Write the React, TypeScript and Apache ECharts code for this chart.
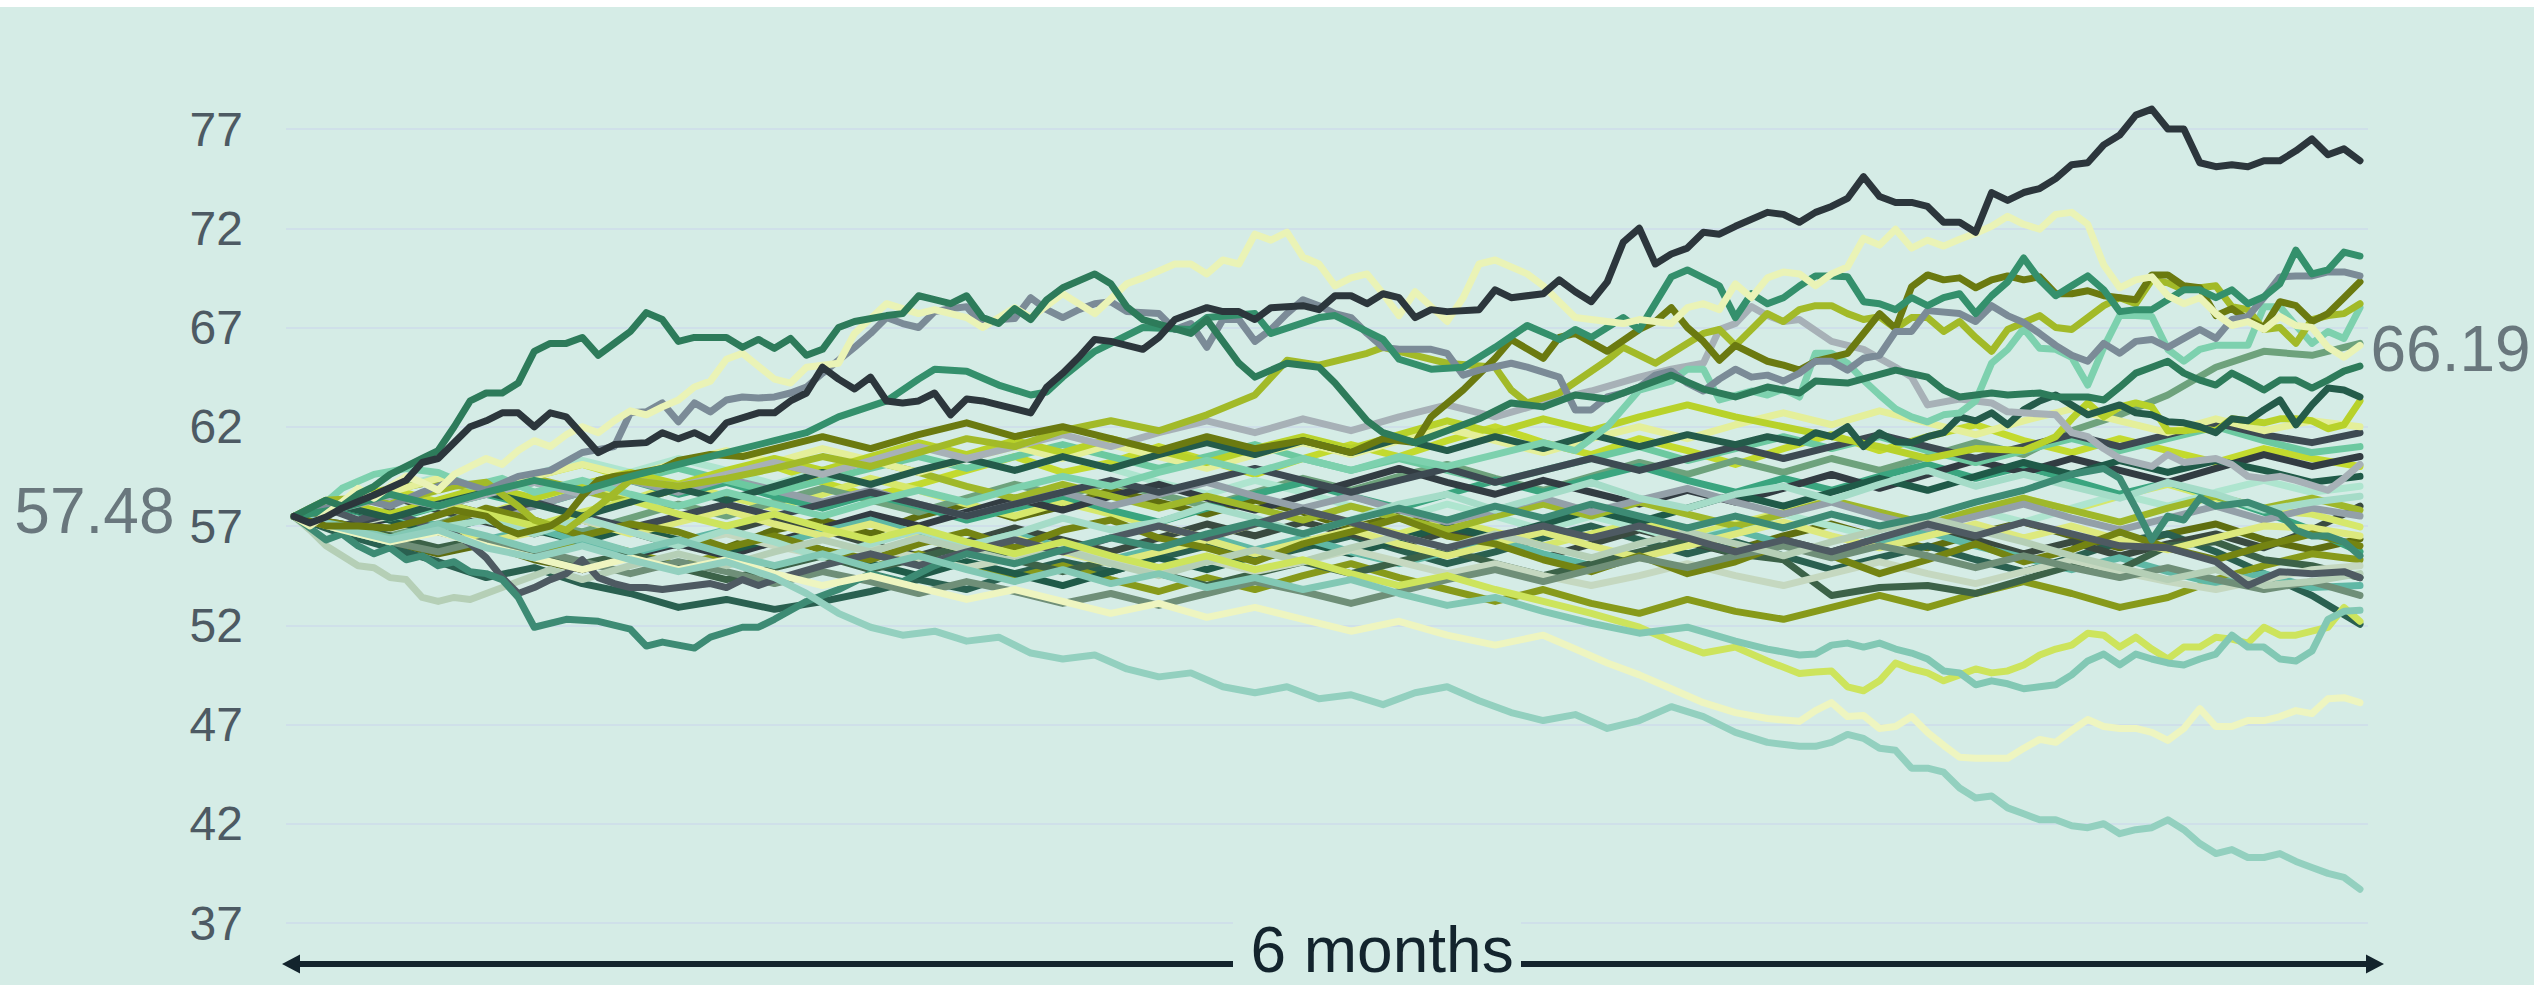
import React, { useEffect, useRef } from "react";
import * as echarts from "echarts";

// ---------------- data ----------------
const START_VALUE = 57.48;
const MARKED_END_VALUE = 66.19;
const LAST_DAY = 129;
const Y_MIN = 37;
const Y_MAX = 77;
const Y_STEP = 5;
const X_LABEL = "6 months";

type Pt = [number, number];

// sampling days shared by the coarser simulated paths
const BUNDLE_DAYS = [0, 3, 6, 9, 12, 15, 18, 21, 24, 27, 30, 33, 36, 39, 42, 45, 48, 51, 54, 57, 60, 63, 66, 69, 72, 75, 78, 81, 84, 87, 90, 93, 96, 99, 102, 105, 108, 111, 114, 117, 120, 123, 126, 129];

const bundleDarkOlive = [57.48, 56.9, 56.2, 55.6, 56.1, 55.3, 54.8, 55.5, 56.2, 55.9, 56.8, 57.3, 56.6, 57.5, 58.1, 57.4, 58.0, 58.8, 58.2, 57.6, 58.3, 57.7, 56.9, 57.5, 56.8, 56.2, 56.9, 57.6, 57.0, 56.4, 55.8, 56.5, 57.1, 56.4, 55.9, 56.6, 57.2, 56.5, 55.9, 56.6, 57.1, 56.3, 55.8, 56.35];
const bundleLime = [57.48, 58.3, 58.9, 58.2, 58.8, 59.5, 60.1, 59.4, 58.7, 59.3, 60.0, 59.2, 58.5, 59.1, 59.8, 60.5, 59.7, 60.2, 61.0, 60.3, 59.6, 60.4, 61.1, 60.5, 61.3, 62.0, 61.2, 60.6, 61.4, 60.8, 60.1, 60.9, 61.6, 60.8, 61.5, 62.1, 61.3, 60.7, 61.4, 60.8, 60.2, 60.9, 60.4, 60.0];
const bundleDeepGreen = [57.48, 56.6, 55.9, 55.2, 54.4, 54.9, 54.1, 53.6, 52.9, 53.3, 52.8, 53.2, 53.7, 54.3, 53.8, 54.6, 55.2, 54.7, 55.4, 56.0, 55.3, 55.9, 56.5, 55.8, 55.1, 55.7, 56.4, 57.0, 56.3, 55.6, 56.2, 55.5, 54.8, 55.4, 56.0, 55.3, 54.7, 55.4, 56.2, 56.6, 55.7, 54.6, 53.5, 52.05];
const bundleCharcoalGreen = [57.48, 57.9, 58.5, 57.8, 57.2, 56.6, 57.3, 56.7, 56.0, 56.7, 57.4, 56.8, 56.1, 55.5, 56.2, 56.9, 56.3, 55.7, 56.4, 57.1, 56.5, 57.2, 56.6, 56.0, 56.7, 56.1, 55.4, 56.1, 56.8, 56.2, 55.6, 56.3, 55.7, 56.4, 57.0, 56.3, 55.6, 56.2, 55.5, 56.1, 56.6, 55.9, 56.8, 58.0];
const bundleLightLime = [57.48, 56.8, 57.5, 58.2, 57.6, 58.4, 59.0, 58.3, 59.1, 58.5, 57.9, 58.6, 59.4, 58.8, 58.1, 57.5, 58.2, 57.6, 57.0, 56.4, 57.1, 57.8, 57.2, 56.6, 57.3, 56.7, 56.0, 56.6, 57.2, 56.5, 57.1, 57.7, 58.3, 57.6, 57.0, 57.7, 58.4, 57.8, 58.5, 59.1, 58.4, 57.8, 57.6, 56.95];
const bundleSage = [57.48, 57.0, 56.5, 57.1, 57.8, 57.2, 56.7, 57.4, 58.1, 57.5, 58.2, 58.9, 58.3, 57.7, 58.4, 59.1, 58.5, 59.2, 58.6, 58.0, 58.7, 59.4, 58.8, 59.5, 60.1, 59.4, 58.8, 59.5, 60.2, 59.6, 60.3, 59.7, 60.4, 59.8, 60.5, 61.2, 60.6, 61.8, 62.6, 63.6, 65.0, 65.8, 65.6, 66.2];
const bundlePaleMint = [57.48, 58.1, 58.8, 59.5, 58.9, 59.6, 60.3, 59.7, 60.4, 59.8, 59.1, 59.8, 60.5, 61.1, 60.4, 59.8, 60.5, 59.9, 59.2, 58.6, 59.3, 58.7, 58.0, 57.4, 58.1, 57.5, 56.8, 57.5, 56.9, 56.2, 56.9, 57.6, 57.0, 56.4, 57.1, 57.8, 57.2, 57.9, 58.6, 58.0, 58.7, 59.3, 58.7, 59.0];
const bundleSeaGreen = [57.48, 57.9, 57.3, 58.0, 58.6, 58.0, 58.7, 59.3, 58.6, 59.2, 58.5, 57.9, 58.6, 58.0, 57.3, 57.9, 58.5, 57.8, 57.2, 57.9, 58.6, 59.2, 58.5, 57.9, 58.6, 59.3, 58.7, 59.4, 60.0, 59.3, 58.7, 59.4, 58.8, 59.5, 60.1, 59.4, 60.0, 59.3, 58.6, 59.2, 58.5, 57.7, 56.8, 55.7];
const bundleOlive = [57.48, 56.9, 56.3, 56.9, 56.2, 55.6, 56.3, 55.7, 55.0, 55.6, 56.2, 55.5, 54.9, 55.6, 55.0, 54.4, 55.0, 54.3, 53.7, 54.4, 53.8, 54.5, 55.1, 54.4, 53.8, 53.2, 53.8, 53.1, 52.6, 53.3, 52.7, 52.3, 52.9, 53.5, 52.9, 53.6, 54.2, 53.6, 52.9, 53.4, 54.3, 55.0, 55.6, 55.3];
const bundleCharcoal = [57.48, 56.8, 57.4, 56.7, 56.1, 55.4, 54.8, 55.5, 56.1, 55.5, 56.2, 56.9, 57.6, 57.0, 57.7, 58.4, 57.8, 58.5, 59.1, 58.4, 57.8, 58.5, 59.2, 59.9, 59.2, 58.6, 59.3, 58.7, 58.1, 58.8, 58.2, 58.9, 59.6, 58.9, 59.6, 60.3, 59.7, 60.4, 59.8, 59.2, 59.9, 60.6, 60.0, 60.5];
const bundleForestDeep = [57.48, 58.0, 57.3, 56.7, 57.4, 56.8, 56.2, 56.9, 56.3, 55.7, 56.4, 55.8, 55.1, 54.5, 55.2, 54.6, 54.0, 54.7, 55.4, 54.8, 55.5, 56.2, 55.6, 56.3, 57.0, 56.4, 57.1, 57.8, 57.2, 57.9, 58.6, 58.0, 58.7, 59.4, 58.8, 59.5, 60.2, 59.6, 60.3, 59.7, 60.3, 59.8, 59.2, 59.5];
const bundleYellowGreen = [57.48, 58.2, 58.8, 59.3, 58.7, 59.4, 58.8, 58.2, 58.9, 59.6, 60.2, 59.6, 60.3, 59.7, 59.0, 58.4, 59.1, 58.5, 57.9, 58.5, 57.9, 57.3, 58.0, 57.4, 56.8, 57.5, 58.1, 57.5, 58.2, 57.6, 57.0, 57.6, 58.3, 57.7, 57.1, 57.8, 58.4, 57.8, 57.2, 57.9, 58.5, 57.9, 58.4, 57.8];
const bundleTeal = [57.48, 57.0, 57.6, 57.0, 56.3, 56.9, 56.2, 55.6, 56.2, 56.8, 56.1, 56.7, 57.3, 56.6, 56.0, 56.6, 55.9, 55.3, 55.9, 56.5, 55.8, 56.4, 55.7, 55.1, 55.7, 56.3, 55.6, 55.0, 55.6, 56.2, 56.8, 56.1, 55.5, 56.1, 56.7, 56.0, 55.4, 54.8, 55.4, 54.7, 54.1, 54.6, 53.9, 54.0];
const bundleForest = [57.48, 57.1, 56.5, 55.9, 56.4, 55.7, 55.1, 55.6, 54.9, 54.3, 54.9, 55.5, 54.8, 55.4, 56.0, 55.3, 54.7, 55.3, 54.6, 54.0, 54.6, 55.2, 54.6, 55.2, 55.8, 55.1, 54.5, 55.1, 55.7, 56.3, 55.6, 55.3, 53.5, 53.9, 54.0, 53.6, 54.3, 55.0, 54.8, 56.0, 56.2, 55.3, 55.0, 54.4];
const bundleGray = [57.48, 58.0, 58.6, 58.0, 57.4, 58.0, 58.7, 59.3, 58.7, 59.4, 58.8, 58.2, 58.8, 58.1, 57.5, 58.1, 58.7, 58.0, 58.6, 59.2, 58.5, 57.9, 58.5, 57.8, 57.2, 57.8, 58.4, 57.7, 58.3, 58.9, 58.2, 57.6, 58.2, 57.5, 56.9, 57.5, 58.1, 57.4, 56.8, 57.4, 58.0, 57.3, 57.9, 57.5];
const bundlePaleLime = [57.48, 56.9, 56.3, 56.8, 56.2, 56.7, 57.3, 56.6, 57.2, 57.8, 57.1, 56.5, 57.1, 56.4, 55.8, 56.4, 55.7, 55.1, 55.7, 56.3, 55.6, 56.2, 56.8, 56.1, 55.5, 56.1, 56.7, 56.0, 55.4, 56.0, 56.6, 57.2, 56.5, 55.9, 56.5, 57.1, 56.4, 57.0, 56.3, 55.8, 56.4, 57.0, 56.9, 56.5];
const bundlePaleSage = [57.48, 57.0, 57.5, 58.0, 57.4, 56.8, 57.3, 56.7, 56.1, 56.6, 56.0, 55.5, 56.0, 55.4, 54.9, 55.4, 55.9, 55.3, 54.8, 55.3, 54.7, 55.2, 55.8, 55.2, 54.6, 55.1, 54.5, 54.0, 54.5, 55.1, 54.5, 54.0, 54.6, 55.2, 54.6, 54.1, 54.7, 55.3, 54.7, 54.2, 53.8, 54.3, 54.8, 55.0];
const bundleMintGreen = [57.48, 58.0, 57.4, 58.0, 58.6, 59.2, 58.6, 59.3, 59.9, 59.3, 58.7, 59.3, 59.9, 60.5, 59.9, 60.5, 61.1, 60.5, 59.9, 60.5, 61.1, 60.4, 59.8, 60.4, 59.8, 59.2, 59.8, 60.4, 61.0, 60.3, 60.9, 61.5, 60.9, 61.5, 60.8, 60.2, 60.8, 61.4, 60.8, 61.4, 62.0, 61.3, 60.7, 61.0];
const bundleDarkSlate = [57.48, 57.0, 57.6, 58.2, 57.6, 58.2, 57.5, 56.9, 57.5, 58.1, 57.5, 58.1, 58.7, 58.1, 57.5, 58.1, 58.7, 59.3, 58.7, 59.3, 59.9, 59.3, 58.7, 59.3, 59.9, 59.2, 59.8, 60.4, 59.8, 60.4, 61.0, 60.4, 61.0, 61.6, 61.0, 60.4, 61.0, 61.6, 61.0, 61.6, 62.2, 61.6, 61.2, 61.7];
const bundleOliveLight = [57.48, 57.1, 56.4, 57.0, 57.9, 57.3, 56.5, 57.1, 56.7, 55.9, 56.5, 55.8, 55.3, 56.1, 56.7, 55.9, 56.8, 57.3, 56.4, 55.9, 55.2, 56.1, 56.7, 57.4, 56.5, 56.1, 55.3, 54.7, 55.5, 54.6, 55.2, 56.1, 55.5, 54.6, 55.3, 56.1, 55.2, 55.8, 56.7, 55.9, 55.3, 56.0, 56.6, 56.0];
const bundleGreenGray = [57.48, 56.9, 56.2, 55.7, 56.3, 55.8, 55.2, 54.6, 55.2, 54.7, 54.1, 54.7, 54.2, 53.6, 54.2, 53.7, 53.1, 53.6, 53.0, 53.6, 54.2, 53.7, 53.1, 53.7, 54.3, 54.8, 54.2, 54.8, 55.4, 54.9, 55.5, 56.0, 55.4, 56.0, 55.5, 54.9, 55.5, 54.9, 54.4, 54.9, 54.3, 53.8, 54.2, 53.5];
const bundleLightTeal = [57.48, 56.8, 56.2, 56.9, 57.3, 56.6, 57.4, 56.7, 56.0, 56.8, 56.2, 55.4, 56.1, 56.8, 56.0, 56.6, 57.4, 56.8, 57.2, 58.0, 57.4, 56.6, 57.3, 58.1, 58.6, 57.8, 58.5, 59.2, 58.4, 57.9, 58.6, 59.0, 58.3, 59.1, 59.8, 59.0, 59.6, 59.0, 58.4, 59.2, 58.6, 57.8, 58.2, 58.5];
const bundleYellow = [57.48, 58.1, 58.7, 59.4, 58.8, 59.5, 60.1, 59.5, 60.2, 60.8, 60.2, 60.9, 60.3, 59.7, 60.4, 61.0, 60.4, 61.1, 60.5, 59.9, 60.6, 61.2, 60.6, 61.3, 61.9, 61.3, 60.7, 61.4, 62.0, 61.4, 62.1, 62.7, 62.1, 62.8, 62.2, 61.6, 62.3, 62.9, 62.3, 61.7, 62.4, 61.8, 62.3, 62.0];

// finely traced paths: [day, value]
const pathTopCharcoal: Pt[] = [[0,57.48],[1,57.15],[2,57.45],[3,57.9],[5,58.56],[7,59.3],[8,60.2],[9,60.4],[11,62.0],[12,62.3],[13,62.7],[14,62.7],[15,62.0],[16,62.7],[17,62.5],[19,60.7],[20,61.1],[22,61.2],[23,61.7],[24,61.4],[25,61.7],[26,61.3],[27,62.2],[29,62.7],[30,62.7],[31,63.3],[32,63.7],[33,65.0],[34,64.4],[35,63.9],[36,64.5],[37,63.3],[38,63.2],[39,63.3],[40,63.7],[41,62.6],[42,63.4],[43,63.3],[44,63.1],[46,62.7],[47,64.0],[48,64.7],[49,65.5],[50,66.4],[51,66.3],[53,65.9],[54,66.5],[55,67.4],[57,68.0],[58,67.8],[59,67.8],[60,67.4],[61,68.0],[63,68.1],[64,67.9],[65,68.6],[66,68.6],[67,68.2],[68,68.7],[69,68.5],[70,67.5],[71,67.9],[72,67.8],[74,67.9],[75,68.9],[76,68.5],[78,68.7],[79,69.4],[80,68.8],[81,68.3],[82,69.3],[83,71.3],[84,72.0],[85,70.2],[86,70.7],[87,71.0],[88,71.8],[89,71.7],[90,72.1],[92,72.8],[93,72.7],[94,72.3],[95,72.8],[96,73.1],[97,73.5],[98,74.6],[99,73.6],[100,73.3],[101,73.3],[102,73.1],[103,72.3],[104,72.3],[105,71.8],[106,73.8],[107,73.4],[108,73.8],[109,74.0],[110,74.5],[111,75.2],[112,75.3],[113,76.2],[114,76.7],[115,77.7],[116,78.0],[117,77.0],[118,77.0],[119,75.3],[120,75.1],[121,75.2],[122,75.1],[123,75.4],[124,75.4],[125,75.9],[126,76.5],[127,75.7],[128,76.0],[129,75.4]];
const pathEarlyGreen: Pt[] = [[0,57.48],[1,57.9],[2,58.3],[3,58.0],[4,58.6],[5,59.0],[6,59.6],[7,60.0],[8,60.4],[9,60.8],[10,62.0],[11,63.3],[12,63.7],[13,63.7],[14,64.2],[15,65.8],[16,66.2],[17,66.2],[18,66.5],[19,65.6],[20,66.2],[21,66.8],[22,67.75],[23,67.4],[24,66.3],[25,66.5],[27,66.5],[28,66.0],[29,66.4],[30,65.95],[31,66.45],[32,65.6],[33,65.9],[34,67.0],[35,67.3],[37,67.6],[38,67.7],[39,68.6],[40,68.4],[41,68.2],[42,68.6],[43,67.5],[44,67.2],[45,67.95],[46,67.4],[47,68.4],[48,69.0],[50,69.7],[51,69.2],[52,68.05],[53,67.4],[56,66.7],[57,67.4],[59,65.2],[60,64.5],[62,65.2],[64,65.0],[65,64.2],[67,62.3],[68,61.7],[70,61.2],[72,61.8],[74,62.4],[76,63.2],[78,63.0],[80,63.6],[82,63.4],[84,64.0],[86,64.6],[88,63.9],[90,63.5],[92,64.0],[94,63.7],[95,64.3],[97,64.2],[100,64.85],[102,64.5],[103,63.85],[104,63.5],[106,63.7],[107,63.6],[109,63.7],[110,63.5],[112,63.5],[113,63.35],[114,64.0],[115,64.7],[116,65.0],[117,65.3],[118,64.7],[119,64.35],[120,64.1],[121,64.7],[122,64.3],[123,63.85],[124,64.35],[125,64.35],[126,63.95],[127,64.35],[128,64.8],[129,65.05]];
const pathPaleYellowHigh: Pt[] = [[0,57.48],[1,57.0],[2,57.6],[3,58.2],[4,58.9],[5,58.4],[6,59.0],[7,59.5],[8,59.2],[9,58.8],[10,59.6],[11,60.0],[12,60.4],[13,60.1],[14,60.8],[15,61.3],[16,61.0],[17,61.6],[18,62.0],[19,61.7],[20,62.3],[21,62.8],[22,62.6],[23,63.0],[24,63.35],[25,64.0],[26,64.3],[27,65.4],[28,65.7],[30,64.4],[31,64.2],[32,65.0],[34,65.2],[35,66.7],[37,68.2],[39,67.7],[40,67.9],[42,67.5],[43,67.0],[45,68.0],[46,67.5],[48,68.7],[50,67.7],[52,69.2],[53,69.5],[55,70.2],[56,70.2],[57,69.7],[58,70.4],[59,70.2],[60,71.7],[61,71.4],[62,71.8],[63,70.55],[64,70.2],[65,69.1],[66,69.5],[67,69.7],[68,68.7],[69,67.6],[70,68.8],[72,67.3],[73,68.5],[74,70.2],[75,70.4],[77,69.7],[78,69.1],[79,68.3],[80,67.5],[82,67.3],[83,67.2],[84,67.4],[86,67.2],[87,68.0],[88,68.2],[89,67.9],[90,69.2],[91,68.5],[92,69.5],[93,69.8],[94,69.7],[95,69.1],[96,69.7],[97,70.05],[98,71.5],[99,71.15],[100,71.95],[101,71.0],[102,71.4],[103,71.1],[104,71.45],[105,71.75],[106,72.1],[107,72.6],[108,72.2],[109,71.95],[110,72.7],[111,72.8],[112,72.2],[113,70.15],[114,69.0],[115,69.4],[116,69.55],[117,68.6],[118,68.2],[119,68.5],[120,67.7],[121,67.1],[122,67.3],[123,66.9],[124,67.55],[125,67.1],[126,67.0],[127,66.0],[128,65.5],[129,66.1]];
const pathBlueGray: Pt[] = [[0,57.48],[2,57.9],[4,58.4],[6,58.0],[8,58.7],[10,59.3],[12,58.8],[14,59.5],[16,59.8],[18,60.7],[20,61.0],[21,62.7],[22,62.75],[23,63.2],[24,62.25],[25,63.2],[26,62.75],[27,63.35],[28,63.5],[29,63.45],[30,63.5],[31,63.7],[32,64.0],[33,64.7],[34,65.35],[35,66.0],[36,66.7],[37,67.5],[38,67.2],[39,67.0],[40,67.8],[41,67.95],[42,68.05],[43,67.1],[44,67.4],[45,67.45],[46,68.5],[47,67.9],[48,67.5],[49,67.9],[50,68.2],[51,68.3],[52,67.8],[54,67.7],[55,66.9],[56,67.2],[57,66.0],[58,67.4],[59,67.4],[60,66.3],[61,66.9],[62,67.7],[63,68.4],[64,68.1],[65,67.7],[66,67.5],[67,66.7],[68,66.0],[69,65.9],[71,65.9],[72,65.7],[73,64.6],[74,64.85],[76,65.2],[77,65.0],[79,64.5],[80,62.85],[81,62.85],[82,63.5],[83,63.7],[84,64.0],[85,64.6],[86,64.8],[87,64.2],[88,63.8],[89,64.4],[90,64.9],[91,64.5],[92,64.6],[93,64.3],[94,64.7],[95,65.3],[96,65.3],[97,64.85],[98,65.45],[99,65.6],[100,66.8],[101,66.8],[102,67.85],[104,67.7],[105,67.3],[106,68.1],[107,67.6],[108,67.25],[109,66.7],[110,66.1],[111,65.6],[112,65.3],[113,66.2],[114,65.7],[115,66.3],[116,66.4],[117,66.0],[118,66.45],[119,66.9],[120,66.45],[121,67.4],[122,67.55],[123,68.5],[124,69.55],[125,69.6],[126,69.6],[127,69.8],[128,69.8],[129,69.6]];
const pathOlive: Pt[] = [[0,57.48],[2,57.0],[4,57.0],[6,56.9],[8,57.3],[10,57.8],[12,57.5],[13,56.9],[14,56.6],[16,57.0],[17,57.5],[18,58.5],[19,59.3],[20,59.5],[21,59.6],[23,59.9],[24,60.3],[26,60.6],[28,60.5],[30,60.9],[33,61.5],[36,60.9],[39,61.6],[42,62.2],[45,61.5],[48,62.0],[51,61.4],[54,60.8],[57,61.5],[60,60.9],[63,61.3],[66,60.7],[68,61.4],[70,61.2],[71,62.5],[73,63.85],[75,65.45],[76,66.4],[78,65.45],[79,66.5],[80,66.7],[82,65.8],[84,66.9],[85,67.3],[86,68.0],[87,67.0],[88,66.3],[89,65.35],[90,66.1],[92,65.3],[93,65.1],[94,64.85],[95,65.3],[96,65.5],[97,65.7],[98,66.7],[99,67.7],[100,66.95],[101,69.05],[102,69.65],[103,69.4],[104,69.5],[105,69.0],[106,69.4],[107,69.6],[108,69.4],[109,69.55],[110,68.7],[111,68.7],[112,68.85],[113,68.6],[114,68.5],[115,68.4],[116,69.65],[117,69.65],[118,69.1],[119,69.0],[120,67.6],[121,67.95],[122,67.4],[123,67.0],[124,68.3],[125,68.1],[126,67.3],[127,67.7],[128,68.5],[129,69.3]];
const pathYellowGreen: Pt[] = [[0,57.48],[2,58.3],[4,58.4],[6,58.1],[8,58.6],[10,59.0],[12,59.2],[14,58.0],[15,57.3],[17,56.8],[19,58.0],[21,59.3],[24,59.0],[27,59.4],[30,59.9],[33,60.5],[36,60.0],[39,60.7],[42,61.4],[45,61.0],[48,61.8],[51,62.3],[54,61.8],[57,62.6],[60,63.6],[62,65.35],[64,65.1],[67,65.7],[68,66.0],[70,65.6],[72,65.2],[75,65.0],[76,63.85],[77,63.2],[79,63.7],[82,65.35],[83,66.0],[85,65.2],[88,66.7],[89,66.9],[90,66.1],[92,67.7],[93,67.3],[94,67.9],[95,68.1],[96,68.1],[97,67.7],[98,67.4],[99,67.55],[100,66.95],[101,67.5],[102,67.5],[103,66.8],[104,67.3],[105,66.5],[106,65.8],[107,66.9],[108,67.25],[109,67.6],[110,67.0],[111,66.9],[112,67.5],[113,68.1],[114,68.5],[115,68.2],[116,69.4],[117,69.25],[118,68.9],[119,69.0],[120,69.1],[121,68.05],[122,67.9],[123,66.9],[124,67.0],[125,66.2],[126,67.4],[127,67.6],[128,67.7],[129,68.2]];
const pathGreen: Pt[] = [[0,57.48],[3,57.9],[6,58.6],[9,58.0],[12,58.7],[15,59.3],[18,58.8],[21,59.5],[24,60.1],[27,60.7],[30,61.3],[32,61.7],[34,62.5],[37,63.3],[39,64.4],[40,64.9],[42,64.8],[44,64.1],[46,63.6],[47,63.75],[48,64.5],[50,65.8],[53,67.0],[56,66.9],[57,67.5],[60,67.7],[61,66.7],[64,67.5],[65,67.6],[68,66.4],[69,65.4],[71,64.9],[73,65.0],[75,66.0],[77,67.1],[79,66.4],[80,66.9],[81,66.5],[83,67.5],[84,66.9],[86,69.55],[87,69.9],[89,69.1],[90,67.5],[91,68.7],[92,68.2],[93,68.5],[94,69.09],[95,69.6],[96,69.6],[97,69.56],[98,68.3],[99,68.2],[100,67.9],[101,68.5],[102,68.1],[103,68.5],[104,68.7],[105,67.7],[106,68.6],[107,69.3],[108,70.5],[109,69.4],[110,68.6],[111,69.1],[112,69.6],[113,68.9],[114,67.8],[115,67.9],[116,67.9],[117,68.4],[118,68.9],[119,68.9],[120,68.5],[121,68.9],[122,68.2],[123,68.55],[124,69.2],[125,70.9],[126,69.7],[127,69.9],[128,70.8],[129,70.6]];
const pathMint: Pt[] = [[0,57.48],[2,58.2],[3,58.9],[5,59.6],[7,59.9],[9,59.7],[11,59.0],[13,59.4],[15,58.7],[18,59.3],[21,58.6],[24,58.0],[27,58.7],[30,58.1],[33,57.5],[36,58.2],[39,58.8],[42,58.2],[45,58.9],[48,59.5],[51,59.0],[54,59.7],[57,60.3],[60,59.7],[63,60.4],[66,59.8],[69,60.5],[72,60.0],[75,60.6],[78,61.2],[80,60.8],[82,62.0],[84,63.85],[86,64.3],[87,64.9],[88,64.9],[89,63.35],[91,63.8],[92,63.6],[93,63.9],[94,63.5],[95,65.7],[96,65.7],[97,65.2],[98,64.35],[99,63.6],[100,62.9],[101,62.5],[102,62.25],[103,62.6],[104,62.7],[105,63.3],[106,65.2],[107,65.9],[108,66.95],[109,65.95],[110,65.9],[111,65.5],[112,64.1],[113,66.0],[114,67.6],[115,67.6],[116,67.55],[117,65.9],[118,65.3],[119,65.9],[120,66.1],[121,66.1],[122,66.1],[123,68.05],[124,68.05],[125,67.1],[126,66.2],[127,66.8],[128,66.45],[129,68.0]];
const pathLowestTeal: Pt[] = [[0,57.48],[3,56.9],[6,56.3],[9,56.8],[12,55.9],[15,55.4],[18,56.0],[21,55.3],[24,54.7],[27,55.2],[30,54.4],[32,53.6],[34,52.6],[36,51.9],[38,51.5],[40,51.7],[42,51.2],[44,51.4],[46,50.6],[48,50.3],[50,50.5],[52,49.8],[54,49.4],[56,49.6],[58,48.9],[60,48.6],[62,48.9],[64,48.3],[66,48.5],[68,48.0],[70,48.6],[72,48.9],[74,48.2],[76,47.6],[78,47.2],[80,47.5],[82,46.8],[84,47.2],[86,47.9],[88,47.4],[90,46.6],[92,46.1],[94,45.9],[95,45.9],[96,46.1],[97,46.5],[98,46.3],[99,45.8],[100,45.7],[101,44.8],[102,44.8],[103,44.6],[104,43.8],[105,43.3],[106,43.4],[107,42.8],[108,42.5],[109,42.2],[110,42.2],[111,41.9],[112,41.8],[113,42.0],[114,41.5],[115,41.7],[116,41.8],[117,42.2],[118,41.7],[119,41.0],[120,40.5],[121,40.7],[122,40.3],[123,40.3],[124,40.5],[125,40.1],[126,39.8],[127,39.5],[128,39.3],[129,38.7]];
const pathLowTeal: Pt[] = [[0,57.48],[3,57.0],[6,56.4],[9,57.1],[12,56.5],[15,55.8],[18,56.4],[21,55.7],[24,56.3],[27,55.6],[30,55.0],[33,55.6],[36,54.9],[39,55.5],[42,54.8],[45,54.2],[48,54.8],[51,54.1],[54,54.6],[57,53.9],[60,54.4],[63,53.8],[66,54.3],[69,53.6],[72,53.0],[75,53.4],[78,52.7],[81,52.1],[84,51.6],[87,51.9],[90,51.2],[92,50.8],[94,50.5],[95,50.55],[96,51.0],[97,51.1],[98,50.9],[99,51.1],[100,50.8],[101,50.6],[102,50.3],[103,49.7],[104,49.6],[105,49.0],[106,49.2],[107,49.05],[108,48.8],[109,48.9],[110,49.0],[111,49.5],[112,50.2],[113,50.55],[114,50.0],[115,50.55],[116,50.3],[117,50.1],[118,50.0],[119,50.3],[120,50.55],[121,51.5],[122,50.9],[123,50.9],[124,50.3],[125,50.2],[126,50.7],[127,52.3],[128,52.7],[129,52.75]];
const pathLowLime: Pt[] = [[0,57.48],[3,58.1],[6,57.5],[9,58.2],[12,57.6],[15,57.0],[18,57.7],[21,58.3],[24,57.6],[27,57.0],[30,57.6],[33,56.9],[36,56.3],[39,56.9],[42,56.2],[45,55.6],[48,56.2],[51,55.5],[54,54.9],[57,55.5],[60,54.8],[63,55.3],[66,54.6],[69,54.0],[72,54.5],[75,53.8],[78,53.2],[81,52.6],[84,51.9],[86,51.2],[88,50.6],[90,50.9],[92,50.2],[94,49.57],[95,49.65],[96,49.7],[97,48.9],[98,48.7],[99,49.2],[100,50.1],[101,49.8],[102,49.6],[103,49.2],[104,49.5],[105,49.8],[106,49.6],[107,49.7],[108,50.0],[109,50.5],[110,50.8],[111,51.0],[112,51.6],[113,51.5],[114,50.9],[115,51.4],[116,50.8],[117,50.3],[118,50.9],[119,50.9],[120,51.4],[121,51.3],[122,51.1],[123,51.9],[124,51.5],[125,51.5],[126,51.7],[127,51.9],[128,52.9],[129,52.2]];
const pathLowPaleYellow: Pt[] = [[0,57.48],[3,56.8],[6,56.2],[9,56.7],[12,56.0],[15,55.4],[18,54.8],[21,55.4],[24,54.8],[27,55.3],[30,54.6],[33,54.0],[36,54.5],[39,53.9],[42,53.3],[45,53.8],[48,53.2],[51,52.6],[54,53.1],[57,52.4],[60,52.9],[63,52.3],[66,51.7],[69,52.2],[72,51.5],[75,51.0],[78,51.5],[80,50.8],[82,50.1],[84,49.5],[86,48.8],[88,48.1],[90,47.6],[92,47.3],[94,47.16],[95,47.7],[96,48.1],[97,47.4],[98,47.45],[99,46.8],[100,46.9],[101,47.4],[102,46.6],[103,45.95],[104,45.35],[105,45.3],[106,45.3],[107,45.3],[108,45.8],[109,46.25],[110,46.1],[111,46.7],[112,47.25],[113,46.9],[114,46.8],[115,46.8],[116,46.6],[117,46.2],[118,46.8],[119,47.8],[120,46.9],[121,46.9],[122,47.2],[123,47.2],[124,47.4],[125,47.7],[126,47.55],[127,48.3],[128,48.35],[129,48.1]];
const pathDipTealGreen: Pt[] = [[0,57.48],[1,56.9],[2,56.3],[3,56.6],[4,56.0],[5,55.6],[6,55.9],[7,55.3],[8,55.5],[9,55.0],[10,55.2],[11,54.7],[12,54.6],[13,54.3],[14,53.4],[15,51.9],[17,52.3],[19,52.2],[21,51.8],[22,50.95],[23,51.15],[25,50.85],[26,51.4],[28,51.9],[29,51.9],[30,52.3],[32,53.2],[34,53.8],[36,54.6],[38,54.2],[40,55.0],[42,55.6],[45,55.1],[48,55.8],[51,56.4],[54,55.9],[57,56.6],[60,57.2],[63,56.6],[66,57.3],[69,57.9],[72,57.3],[75,58.0],[78,57.4],[81,58.1],[84,57.5],[87,56.9],[90,57.5],[93,56.9],[96,57.6],[99,57.0],[102,57.5],[105,58.2],[108,58.8],[111,59.6],[113,59.9],[114,59.4],[115,57.9],[116,56.3],[117,57.5],[118,57.3],[119,58.4],[120,58.0],[121,58.1],[122,58.2],[123,57.9],[124,57.6],[125,56.8],[126,56.5],[127,56.5],[128,56.2],[129,55.5]];
const pathSlate: Pt[] = [[0,57.48],[2,57.9],[4,57.3],[6,57.8],[8,57.1],[10,56.6],[11,56.1],[12,55.4],[13,54.4],[14,53.6],[15,53.9],[16,54.3],[17,54.6],[18,55.3],[19,54.4],[20,54.1],[21,53.9],[22,53.9],[23,53.8],[24,53.9],[25,54.0],[26,54.1],[27,53.9],[28,54.3],[29,54.0],[30,54.3],[33,55.0],[36,55.6],[39,55.0],[42,55.7],[45,56.3],[48,55.7],[51,56.4],[54,57.0],[57,56.4],[60,57.1],[63,57.8],[66,57.2],[69,56.5],[72,55.9],[75,56.5],[78,57.0],[81,56.4],[84,57.0],[87,56.4],[90,55.7],[93,56.3],[96,55.7],[99,56.4],[102,57.1],[105,56.5],[108,57.2],[111,56.6],[114,56.0],[117,55.9],[120,55.2],[122,54.0],[124,54.7],[126,54.6],[128,54.7],[129,54.4]];
const pathDarkGreen: Pt[] = [[0,57.48],[3,58.0],[6,57.4],[9,58.1],[12,58.7],[15,58.1],[18,57.5],[21,58.2],[24,58.9],[27,58.3],[30,59.0],[33,59.7],[36,59.1],[39,59.8],[42,60.4],[45,59.8],[48,60.5],[51,59.9],[54,60.6],[57,61.2],[60,60.6],[63,61.3],[66,60.7],[69,61.4],[72,60.8],[75,61.5],[78,60.9],[81,61.6],[84,61.0],[87,61.6],[90,61.1],[92,61.5],[94,61.2],[95,61.7],[96,61.5],[97,62.0],[98,61.0],[99,61.7],[100,61.25],[101,61.2],[102,61.5],[103,61.7],[104,62.5],[105,62.3],[106,62.7],[107,62.1],[108,62.85],[109,63.3],[110,63.6],[111,63.1],[112,62.6],[113,62.85],[114,63.1],[115,62.7],[116,62.6],[117,62.25],[118,62.2],[119,62.0],[120,61.7],[121,62.4],[122,62.3],[123,62.85],[124,63.35],[125,62.1],[126,63.1],[127,63.95],[128,63.85],[129,63.5]];
const pathLimeUpper: Pt[] = [[0,57.48],[3,58.2],[6,57.6],[9,58.3],[12,59.0],[15,58.4],[18,59.1],[21,59.7],[24,59.1],[27,59.8],[30,60.4],[33,59.8],[36,60.5],[39,61.2],[42,60.6],[45,61.3],[48,60.7],[51,61.4],[54,60.8],[57,60.2],[60,60.9],[63,61.5],[66,60.9],[69,61.6],[72,62.3],[75,61.7],[78,62.4],[81,61.8],[84,62.5],[87,63.1],[90,62.5],[93,62.0],[96,61.5],[99,61.0],[102,60.4],[105,60.9],[108,60.8],[110,61.5],[111,62.4],[112,63.2],[113,62.5],[114,63.0],[115,63.2],[116,63.0],[117,61.8],[118,61.8],[119,61.9],[120,61.8],[121,62.4],[122,62.3],[123,62.2],[124,62.4],[125,62.4],[126,62.3],[127,61.9],[128,62.1],[129,63.3]];
const pathPaleSageLow: Pt[] = [[0,57.48],[1,56.8],[2,56.0],[3,55.5],[4,55.0],[5,54.9],[6,54.4],[7,54.3],[8,53.4],[9,53.2],[10,53.4],[11,53.3],[12,53.6],[14,54.2],[16,54.8],[18,54.3],[21,55.0],[24,55.6],[27,55.0],[30,55.7],[33,56.3],[36,55.7],[39,56.4],[42,55.8],[45,55.2],[48,55.8],[51,55.1],[54,54.5],[57,55.2],[60,55.8],[63,55.2],[66,55.9],[69,56.5],[72,55.9],[75,56.6],[78,56.0],[81,55.4],[84,56.1],[87,56.7],[90,56.1],[93,55.5],[96,56.2],[99,56.8],[102,57.4],[105,56.8],[108,56.2],[111,55.5],[114,54.9],[117,54.3],[120,54.8],[123,54.0],[126,54.2],[129,54.6]];
const pathLightGray: Pt[] = [[0,57.48],[3,57.9],[6,58.5],[9,58.0],[12,58.6],[15,59.2],[18,58.6],[21,59.3],[24,59.0],[27,59.6],[30,60.2],[33,59.6],[36,60.3],[39,61.0],[42,60.4],[45,61.0],[48,61.6],[51,61.0],[54,61.7],[57,62.3],[60,61.7],[63,62.4],[66,61.8],[69,62.5],[72,63.1],[75,62.5],[78,63.2],[81,63.8],[84,64.5],[86,64.9],[88,65.2],[89,66.9],[90,67.2],[91,68.05],[92,67.6],[93,67.3],[94,67.4],[96,66.3],[98,65.9],[100,65.0],[101,64.5],[102,63.1],[104,63.4],[106,63.2],[107,62.75],[110,62.6],[111,61.7],[112,61.5],[113,60.9],[114,60.4],[116,60.0],[117,60.6],[118,60.2],[120,60.4],[121,60.1],[122,59.5],[123,59.4],[124,59.5],[125,59.3],[127,58.8],[128,59.4],[129,60.1]];

// ---------------- styles ----------------
const BG = "#d5ece6";
const GRID_COLOR = "#cfe0e9";
const LABEL_COLOR = "#4d5a63";
const INK = "#13242d";
const FONT = "'Liberation Sans', Arial, Helvetica, sans-serif";
const LINE_WIDTH = 7;

const BUNDLE_LINES: [number[], string][] = [
  [bundleDarkOlive, "#5f6e10"],
  [bundleLime, "#c3da2e"],
  [bundleDeepGreen, "#2a6050"],
  [bundleCharcoalGreen, "#3a4a40"],
  [bundleLightLime, "#d6e86b"],
  [bundleSage, "#6ea27c"],
  [bundlePaleMint, "#aee5cf"],
  [bundleSeaGreen, "#3aa57f"],
  [bundleOlive, "#879a1a"],
  [bundleCharcoal, "#323c42"],
  [bundleForestDeep, "#1f5a48"],
  [bundleYellowGreen, "#9fb82a"],
  [bundleTeal, "#5fb8a5"],
  [bundleForest, "#3c6248"],
  [bundleGray, "#93a0a8"],
  [bundlePaleLime, "#dde97e"],
  [bundlePaleSage, "#c5d8c0"],
  [bundleMintGreen, "#6cc9a0"],
  [bundleDarkSlate, "#3d4a52"],
  [bundleOliveLight, "#748412"],
  [bundleGreenGray, "#6f8f78"],
  [bundleLightTeal, "#a5dcc8"],
  [bundleYellow, "#e4ef9a"],
];

const TRACED_LINES: [Pt[], string][] = [
  [pathPaleSageLow, "#b5cfb6"],
  [pathSlate, "#4e5a62"],
  [pathDipTealGreen, "#3d8b74"],
  [pathLowPaleYellow, "#eef5c0"],
  [pathLowLime, "#cde45c"],
  [pathLowTeal, "#82c8b4"],
  [pathLowestTeal, "#93d0bf"],
  [pathLimeUpper, "#b8d22a"],
  [pathDarkGreen, "#245b4a"],
  [pathLightGray, "#a7b1b7"],
  [pathMint, "#7dd1ae"],
  [pathYellowGreen, "#a2ba28"],
  [pathOlive, "#6b7a10"],
  [pathBlueGray, "#7b8b97"],
  [pathGreen, "#34906c"],
  [pathPaleYellowHigh, "#eaf3b6"],
  [pathEarlyGreen, "#2d7b5a"],
  [pathTopCharcoal, "#2c363c"],
];

function lineSeries(data: Pt[], color: string, z: number) {
  return {
    type: "line",
    data,
    showSymbol: false,
    symbol: "none",
    clip: false,
    silent: true,
    z,
    lineStyle: { width: LINE_WIDTH, color, join: "round", cap: "round" },
    itemStyle: { color },
    emphasis: { disabled: true },
  };
}

function buildOption() {
  const series: any[] = [];
  BUNDLE_LINES.forEach(([vals, color]) => {
    const data: Pt[] = BUNDLE_DAYS.map((d, k) => [d, vals[k]]);
    series.push(lineSeries(data, color, 2));
  });
  TRACED_LINES.forEach(([pts, color]) => {
    series.push(lineSeries(pts, color, 3));
  });
  series.push({
    type: "scatter",
    data: [[0, START_VALUE]],
    symbolSize: 1,
    itemStyle: { color: "rgba(0,0,0,0)" },
    silent: true,
    z: 5,
    label: {
      show: true,
      formatter: () => START_VALUE.toFixed(2),
      position: "left",
      distance: 119,
      offset: [0, -5],
      fontSize: 64,
      color: LABEL_COLOR,
      fontFamily: FONT,
    },
  });
  series.push({
    type: "scatter",
    data: [[LAST_DAY, MARKED_END_VALUE]],
    symbolSize: 1,
    itemStyle: { color: "rgba(0,0,0,0)" },
    silent: true,
    z: 5,
    label: {
      show: true,
      formatter: () => MARKED_END_VALUE.toFixed(2),
      position: "right",
      distance: 10,
      offset: [0, 5],
      fontSize: 64,
      color: LABEL_COLOR,
      fontFamily: FONT,
    },
  });

  return {
    animation: false,
    backgroundColor: BG,
    textStyle: { fontFamily: FONT },
    grid: { left: 286, right: 166, top: 122, bottom: 62 },
    xAxis: {
      type: "value",
      min: -0.5,
      max: LAST_DAY + 0.5,
      show: false,
      splitLine: { show: false },
    },
    yAxis: {
      type: "value",
      min: Y_MIN,
      max: Y_MAX,
      interval: Y_STEP,
      axisLine: { show: false },
      axisTick: { show: false },
      axisLabel: { fontSize: 48, color: LABEL_COLOR, margin: 43, fontFamily: FONT },
      splitLine: { show: true, lineStyle: { color: GRID_COLOR, width: 2 } },
    },
    graphic: {
      elements: [
        { type: "line", z: 100, shape: { x1: 296, y1: 957, x2: 2370, y2: 957 }, style: { stroke: INK, lineWidth: 6 } },
        { type: "polygon", z: 100, shape: { points: [[282, 957], [300, 947.5], [300, 966.5]] }, style: { fill: INK } },
        { type: "polygon", z: 100, shape: { points: [[2384, 957], [2366, 947.5], [2366, 966.5]] }, style: { fill: INK } },
        { type: "rect", z: 101, shape: { x: 1233, y: 900, width: 288, height: 78 }, style: { fill: BG } },
        {
          type: "text",
          z: 102,
          x: 1382,
          y: 943,
          style: {
            text: X_LABEL,
            fontSize: 64,
            lineHeight: 64,
            fontFamily: FONT,
            fill: INK,
            textAlign: "center",
            textVerticalAlign: "middle",
            align: "center",
            verticalAlign: "middle",
          },
        },
      ],
    },
    series,
  };
}

export default function App() {
  const ref = useRef<HTMLDivElement>(null);
  useEffect(() => {
    if (!ref.current) return;
    const chart = echarts.init(ref.current, undefined, { renderer: "svg" });
    chart.setOption(buildOption() as any);
    return () => chart.dispose();
  }, []);
  return (
    <div
      ref={ref}
      style={{ position: "fixed", left: 0, top: 7, width: 2534, height: 978 }}
    />
  );
}
